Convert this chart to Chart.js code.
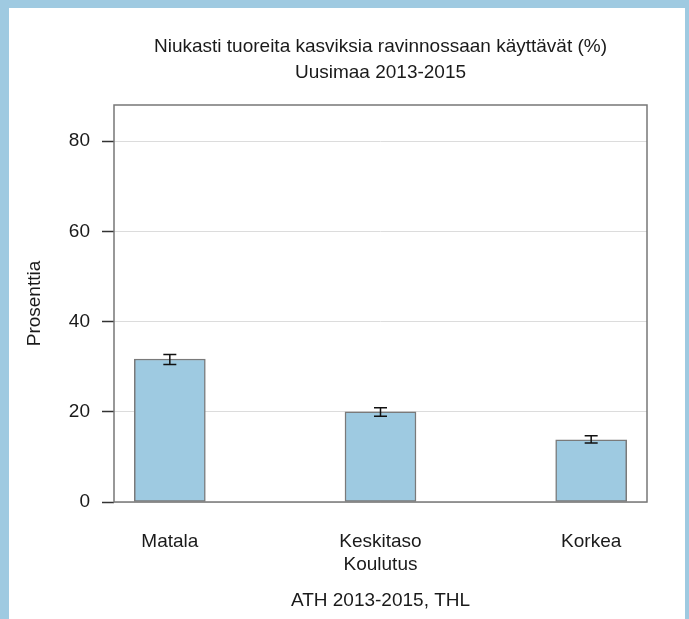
<!DOCTYPE html>
<html>
<head>
<meta charset="utf-8">
<script src="https://cdn.jsdelivr.net/npm/chart.js@4"></script>
<style>
  body { margin: 0; background: #9fcae1; width: 689px; height: 619px; overflow: hidden; position: relative; }
  #paper { position: absolute; left: 9px; top: 8px; width: 676px; height: 611px; background: #fff; }
  #barChart { position: absolute; left: 0; top: 0; }
</style>
</head>
<body>
<div id="paper"></div>
<canvas id="barChart" width="689" height="619"></canvas>
<script>
// data
const categories = ['Matala', 'Keskitaso', 'Korkea'];
const values = [31.7, 20.0, 13.8];
const errLow = [30.5, 19.0, 13.1];
const errHigh = [32.7, 20.9, 14.7];
const yTicks = [0, 20, 40, 60, 80];

const FONT = 'Liberation Sans, Arial, sans-serif';
Chart.defaults.font.family = FONT;
Chart.defaults.color = '#1a1a1a';

// box around the plot + error bars
const boxAndErrors = {
    id: 'boxAndErrors',
    afterDatasetsDraw(chart) {
        const ctx = chart.ctx;
        const x = chart.scales.x, y = chart.scales.y;
        ctx.save();
        ctx.strokeStyle = '#111';
        ctx.lineWidth = 1.5;
        values.forEach((v, i) => {
            const px = x.getPixelForValue(i);
            const lo = y.getPixelForValue(errLow[i]);
            const hi = y.getPixelForValue(errHigh[i]);
            ctx.beginPath();
            ctx.moveTo(px, lo); ctx.lineTo(px, hi);
            ctx.moveTo(px - 6.5, lo); ctx.lineTo(px + 6.5, lo);
            ctx.moveTo(px - 6.5, hi); ctx.lineTo(px + 6.5, hi);
            ctx.stroke();
        });
        const a = chart.chartArea;
        ctx.strokeStyle = '#777';
        ctx.lineWidth = 1.5;
        ctx.strokeRect(a.left, a.top, a.right - a.left, a.bottom - a.top);
        ctx.restore();
    }
};

const CHART = document.getElementById('barChart');
let barChart = new Chart(CHART, {
    type: 'bar',
    data: {
        datasets: [{
            data: values.map((v, i) => ({x: i, y: v})),
            backgroundColor: '#9ecae1',
            borderColor: '#7a7a7a',
            borderWidth: 1.5,
            borderSkipped: false,
            barThickness: 71
        }]
    },
    plugins: [boxAndErrors],
    options: {
        responsive: false,
        animation: false,
        layout: { padding: { left: 0, right: 42, top: 0, bottom: 0 } },
        plugins: {
            legend: { display: false },
            tooltip: { enabled: false },
            title: {
                display: true,
                fullSize: false,
                text: ['Niukasti tuoreita kasviksia ravinnossaan käyttävät (%)', 'Uusimaa 2013-2015'],
                font: { size: 19, weight: 'normal', lineHeight: 26 / 19 },
                color: '#1a1a1a',
                padding: { top: 34, bottom: 19 }
            },
            subtitle: {
                display: true,
                fullSize: false,
                position: 'bottom',
                text: 'ATH 2013-2015, THL',
                font: { size: 19, lineHeight: 1.2 },
                color: '#1a1a1a',
                padding: { top: 8, bottom: 6.6 }
            }
        },
        scales: {
            x: {
                type: 'linear',
                min: -0.265,
                max: 2.265,
                offset: false,
                grid: { display: false, drawTicks: false },
                border: { display: false },
                afterBuildTicks: axis => { axis.ticks = categories.map((c, i) => ({value: i})); },
                afterFit: axis => { axis.height = 79.6; },
                ticks: {
                    padding: 28,
                    autoSkip: false,
                    maxRotation: 0,
                    font: { size: 19 },
                    callback: v => categories[v]
                },
                title: {
                    display: true,
                    text: 'Koulutus',
                    font: { size: 19, lineHeight: 1.2 },
                    padding: { top: 0, bottom: 5.2 }
                }
            },
            y: {
                min: 0,
                max: 88,
                afterBuildTicks: axis => { axis.ticks = yTicks.map(v => ({value: v})); },
                afterFit: axis => { axis.width = 114; },
                grid: { color: '#dcdcdc', tickColor: '#333', tickLength: 12, lineWidth: 1, tickWidth: 1.5 },
                border: { display: false },
                ticks: { padding: 12, font: { size: 19 } },
                title: {
                    display: true,
                    text: 'Prosenttia',
                    font: { size: 19, lineHeight: 1.2 },
                    padding: { top: 23.6, bottom: 0 }
                }
            }
        }
    }
});
</script>
</body>
</html>
